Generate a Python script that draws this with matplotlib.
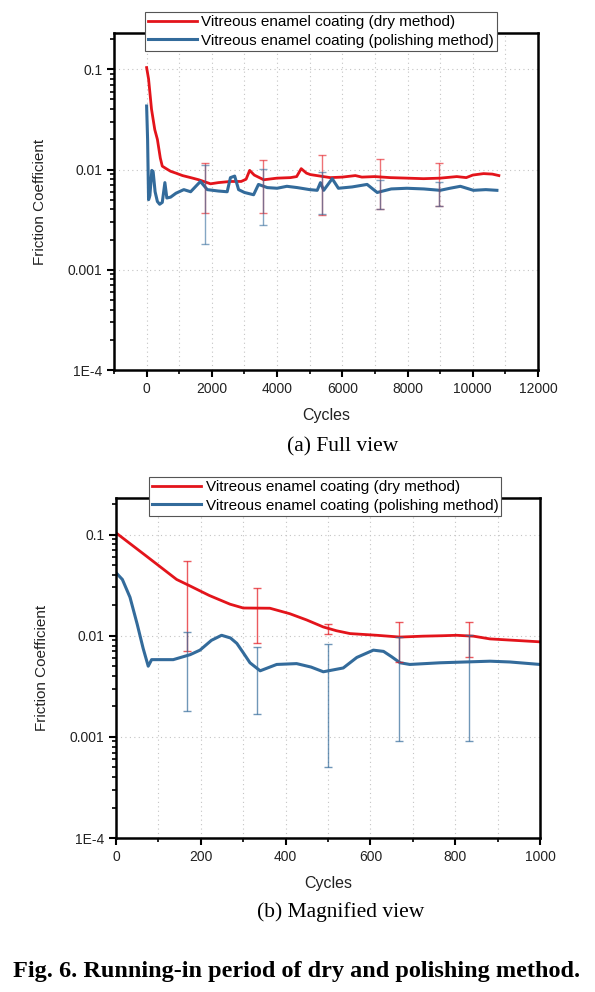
import numpy as np
import matplotlib
matplotlib.use("Agg")
import matplotlib.pyplot as plt
from matplotlib.ticker import LogLocator, FixedLocator, MultipleLocator, FuncFormatter, NullFormatter

plt.rcParams['font.family'] = ['Liberation Sans', 'DejaVu Sans']

# ---- data (a) full view ----
dry_full_x = [0, 60, 150, 250, 330, 420, 480, 600, 735, 900, 1100, 1350, 1600, 1960, 2200, 2570, 2900,
              3050, 3160, 3300, 3590, 4000, 4410, 4600, 4740, 4900, 5020, 5630, 6000, 6400, 6600, 7000,
              7470, 8000, 8490, 9000, 9510, 9800, 10000, 10330, 10600, 10800]
dry_full_y = [0.104, 0.08, 0.04, 0.025, 0.02, 0.013, 0.0108, 0.0102, 0.0096, 0.0092, 0.0087, 0.0083,
              0.0079, 0.0072, 0.0074, 0.0076, 0.0076, 0.0080, 0.0098, 0.0088, 0.0079, 0.0082, 0.0083,
              0.0085, 0.0102, 0.0092, 0.0089, 0.0083, 0.0084, 0.0087, 0.0084, 0.0085, 0.0083, 0.0082,
              0.0081, 0.0082, 0.0085, 0.0083, 0.0088, 0.0091, 0.0090, 0.0087]
pol_full_x = [0, 30, 60, 100, 160, 200, 260, 330, 400, 480, 560, 620, 735, 900, 1140, 1350, 1650, 1860,
              2200, 2470, 2570, 2700, 2820, 3000, 3280, 3430, 3700, 4000, 4300, 4620, 5000, 5230, 5330,
              5430, 5690, 5880, 6300, 6760, 7070, 7500, 7980, 8500, 9000, 9300, 9620, 10020, 10400, 10740]
pol_full_y = [0.043, 0.02, 0.005, 0.0055, 0.0098, 0.0095, 0.006, 0.0048, 0.0045, 0.0047, 0.0074, 0.0052,
              0.0053, 0.0058, 0.0063, 0.006, 0.0076, 0.0063, 0.0061, 0.006, 0.0083, 0.0086, 0.0063,
              0.0059, 0.0056, 0.0071, 0.0066, 0.0065, 0.0068, 0.0066, 0.0063, 0.0062, 0.0074, 0.0062,
              0.0081, 0.0065, 0.0067, 0.0071, 0.0059, 0.0064, 0.0065, 0.0064, 0.0062, 0.0065, 0.0068,
              0.0062, 0.0063, 0.0062]
err_full_x = [1790, 3580, 5370, 7160, 8950]
dry_full_mean = [0.0076, 0.0080, 0.0087, 0.0084, 0.0080]
dry_full_err = [0.0039, 0.0043, 0.0052, 0.0044, 0.0037]
pol_full_mean = [0.0065, 0.0065, 0.0065, 0.0059, 0.0059]
pol_full_err = [0.0047, 0.0037, 0.0029, 0.0019, 0.0016]

# ---- data (b) magnified view ----
dry_mag_x = [0, 70, 143, 175, 220, 269, 300, 363, 410, 450, 489, 520, 552, 615, 670, 724, 770, 803,
             843, 882, 940, 1000]
dry_mag_y = [0.104, 0.062, 0.036, 0.031, 0.025, 0.0205, 0.0188, 0.0187, 0.0165, 0.0143, 0.0122, 0.0112,
             0.0105, 0.0101, 0.0097, 0.0099, 0.0100, 0.0101, 0.0099, 0.0093, 0.0090, 0.0087]
pol_mag_x = [0, 15, 33, 50, 64, 76, 84, 135, 175, 198, 225, 249, 270, 285, 300, 316, 340, 379, 426,
             460, 489, 536, 568, 607, 631, 650, 670, 693, 764, 882, 929, 1000]
pol_mag_y = [0.042, 0.036, 0.024, 0.013, 0.0075, 0.005, 0.0058, 0.0058, 0.0065, 0.0072, 0.0090, 0.0101,
             0.0095, 0.0084, 0.0068, 0.0054, 0.0045, 0.0052, 0.0053, 0.0049, 0.0044, 0.0048, 0.0061,
             0.0072, 0.0070, 0.0062, 0.0054, 0.0052, 0.0054, 0.0056, 0.0055, 0.0052]
err_mag_x = [167, 333, 500, 667, 833]
dry_mag_mean = [0.031, 0.019, 0.0118, 0.0096, 0.0099]
dry_mag_err = [0.024, 0.0106, 0.0014, 0.0041, 0.0038]
pol_mag_mean = [0.0063, 0.0047, 0.0044, 0.0053, 0.0055]
pol_mag_err = [0.0045, 0.003, 0.0039, 0.0044, 0.0046]

ytick_vals = [1e-4, 1e-3, 1e-2, 1e-1]
ytick_labels = ['1E-4', '0.001', '0.01', '0.1']
labels = ['Vitreous enamel coating (dry method)', 'Vitreous enamel coating (polishing method)']

red = '#e3141b'
blue = '#336b9b'

fig = plt.figure(figsize=(5.95, 9.92), dpi=100)
ax1 = fig.add_axes([114/595, 1 - 370/992, 424/595, 337/992])
ax2 = fig.add_axes([116/595, 1 - 838/992, 424/595, 340/992])


def style(ax, xlim, major, minor, leg_x):
    ax.set_yscale('log')
    ax.set_ylim(1e-4, 0.23)
    ax.set_xlim(*xlim)
    ax.xaxis.set_major_locator(MultipleLocator(major))
    ax.xaxis.set_minor_locator(MultipleLocator(minor))
    ax.yaxis.set_major_locator(FixedLocator(ytick_vals))
    ax.yaxis.set_major_formatter(FuncFormatter(lambda v, p: ytick_labels[ytick_vals.index(v)] if v in ytick_vals else ''))
    ax.yaxis.set_minor_locator(LogLocator(base=10, subs=np.arange(2, 10)))
    ax.yaxis.set_minor_formatter(NullFormatter())
    ax.tick_params(axis='both', which='major', direction='out', length=5, width=1.5, labelsize=10,
                   labelcolor='#222222')
    ax.tick_params(axis='both', which='minor', direction='out', length=3, width=1.2)
    ax.grid(which='both', axis='x', ls=(0, (1, 3)), color='#c4c4c4', lw=0.8)
    ax.grid(which='major', axis='y', ls=(0, (1, 3)), color='#c4c4c4', lw=0.8)
    for s in ax.spines.values():
        s.set_linewidth(1.8)
    ax.set_xlabel('Cycles', fontsize=11.5, labelpad=9, color='#222222')
    ax.set_ylabel('Friction Coefficient', fontsize=11, labelpad=15, color='#222222')
    leg = ax.legend(loc='upper left', bbox_to_anchor=(leg_x, 1.062), borderaxespad=0, fontsize=11,
                    frameon=True, fancybox=False, edgecolor='#555555', framealpha=1,
                    handlelength=3.2, handletextpad=0.3, labelspacing=0.3, borderpad=0.2)
    leg.get_frame().set_linewidth(0.8)


ax1.plot(dry_full_x, dry_full_y, color=red, lw=2, label=labels[0])
ax1.plot(pol_full_x, pol_full_y, color=blue, lw=2.2, label=labels[1])
ax1.errorbar(err_full_x, dry_full_mean, yerr=dry_full_err, fmt='none', ecolor=red, elinewidth=1,
             capsize=3, alpha=0.6)
ax1.errorbar(err_full_x, pol_full_mean, yerr=pol_full_err, fmt='none', ecolor=blue, elinewidth=1,
             capsize=3, alpha=0.6)
style(ax1, (-1000, 12000), 2000, 1000, 0.073)

ax2.plot(dry_mag_x, dry_mag_y, color=red, lw=2, label=labels[0])
ax2.plot(pol_mag_x, pol_mag_y, color=blue, lw=2.2, label=labels[1])
ax2.errorbar(err_mag_x, dry_mag_mean, yerr=dry_mag_err, fmt='none', ecolor=red, elinewidth=1,
             capsize=3, alpha=0.7)
ax2.errorbar(err_mag_x, pol_mag_mean, yerr=pol_mag_err, fmt='none', ecolor=blue, elinewidth=1,
             capsize=3, alpha=0.7)
style(ax2, (0, 1000), 200, 100, 0.078)

fig.text(343/595, 1 - 447/992, '(a) Full view', family='Liberation Serif', fontsize=15.5,
         ha='center', va='center')
fig.text(341/595, 1 - 912/992, '(b) Magnified view', family='Liberation Serif', fontsize=15.5,
         ha='center', va='center')
fig.text(297/595, 1 - 972/992, 'Fig. 6. Running-in period of dry and polishing method.',
         family='Liberation Serif', fontweight='bold', fontsize=17.5, ha='center', va='center')

fig.savefig('out.png', dpi=100)
